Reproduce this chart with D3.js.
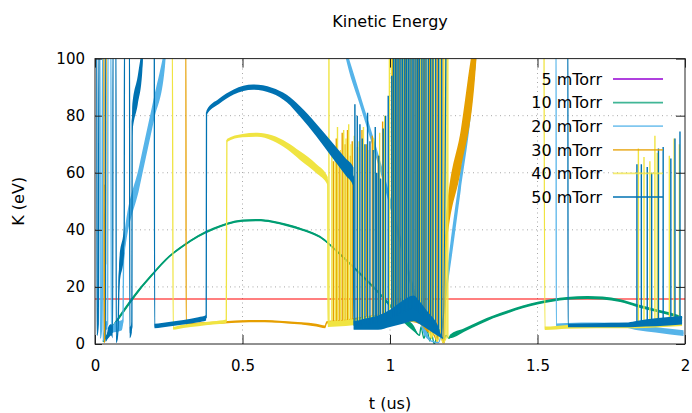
<!DOCTYPE html>
<html><head><meta charset="utf-8">
<script src="https://cdn.jsdelivr.net/npm/d3@7"></script>
<style>
body{margin:0;background:#fff;}
svg{display:block;font-family:"DejaVu Sans",sans-serif;}
</style></head><body>
<svg id="c" width="692" height="413"></svg>
<script>
// ---------- data ----------
const title = "Kinetic Energy";
const xLabel = "t (us)";
const yLabel = "K (eV)";
const tTicks = [0, 0.5, 1, 1.5, 2];
const kTicks = [0, 20, 40, 60, 80, 100];
const seriesNames = ["5 mTorr", "10 mTorr", "20 mTorr", "30 mTorr", "40 mTorr", "50 mTorr"];
const seriesColors = ["#9400d3", "#009e73", "#56b4e9", "#e69f00", "#f0e442", "#0072b2"];
const thresholdLine = [[0, 15.76], [2, 15.76]];   // horizontal reference (eV)

// points: [t (us), K (eV), noise half-amplitude (eV)]
const k5 = [];
const k10 = [
  [[0.027,0.8,0.4],[0.06,6,0.6],[0.1,12,0.7],[0.15,19,0.6],[0.2,25,0.5],[0.25,30.5,0.4],[0.3,34.5,0.4],[0.35,37.8,0.4],[0.4,40.3,0.4],[0.45,42.2,0.4],[0.5,43.2,0.4],[0.55,43.4,0.4],[0.6,42.9,0.4],[0.65,41.7,0.4],[0.7,40.2,0.4],[0.763,37.5,0.4],[0.83,31.5,0.4],[0.9,24.5,0.5],[0.966,17.5,0.5],[1.0,13.5,0.6],[1.04,9,0.8],[1.08,5.5,1],[1.1,3],[1.105,6],[1.115,2],[1.125,5],[1.135,1],[1.14,4],[1.15,0],[1.16,3],[1.17,5],[1.18,1],[1.19,3],[1.2,2],
   [1.203,2.6,0.6],[1.25,4.8,0.6],[1.305,7.5,0.6],[1.35,9.5,0.5],[1.4,11.3,0.5],[1.45,13,0.5],[1.5,14.3,0.5],[1.55,15.3,0.5],[1.6,16,0.5],[1.67,16.3,0.5],[1.72,16.1,0.5],[1.78,15.2,0.5],[1.836,13.5,0.5],[1.9,11.8,0.5],[1.95,10.5,0.5],[1.99,9.2,0.5]]
];
const k20 = [
  [[0,110],[0.017,110],[0.018,2],[0.022,5],[0.026,110],[0.027,1],[0.035,6,1.5],[0.043,7,1.5],[0.044,110],[0.054,110],[0.055,5,1],[0.07,6,1.8],[0.09,6.5,1.8],[0.095,8,1],[0.097,32,4],[0.15,58.5,4],[0.2,82.5,4],[0.236,100,4],[0.245,110]],
  [[0.83,110],[0.855,100,2],[0.9,85,2],[0.977,58.6,2],[1.03,38,2],[1.078,19,2],[1.12,4,1.5],[1.14,1],[1.164,0.5],[1.203,30,4],[1.24,58,4],[1.274,84,4],[1.3,110]],
  [[1.56,110],[1.563,110],[1.5635,6.6,0.6],[1.6,6.7,0.7],[1.7,6.8,0.7],[1.8,6.5,0.8],[1.84,5.8,1],[1.9,5,1],[1.95,4.3,1],[1.995,3.8,1]]
];
const k30 = [
  [[0,110],[0.03,110],[0.031,0.5],[0.034,2],[0.035,56],[0.036,28],[0.038,110]],
  [[0.306,110],[0.308,110],[0.309,6.8,0.4],[0.35,7.1,0.4],[0.4,7.4,0.4],[0.45,7.7,0.4],[0.5,7.9,0.4],[0.55,8,0.4],[0.6,7.9,0.4],[0.65,7.6,0.4],[0.7,7.2,0.4],[0.75,6.6,0.5],[0.78,6,0.5],[0.785,7.6,0.4],[0.85,8,0.6],[0.9,8.5,1],[0.95,9,1.2],[1.0,9.5,1.5],[1.05,10,2],[1.1,9,2],[1.13,6,2],[1.15,3],[1.16,1],[1.17,4],[1.18,0.5],[1.185,0.5],[1.19,38,6],[1.24,68,7],[1.288,100,7],[1.3,110]]
];
const k40 = [
  [[0,110],[0.262,110],[0.265,5.5,0.5],[0.3,6.2,0.6],[0.35,6.8,0.6],[0.4,7.4,0.6],[0.445,8,0.6],[0.447,71.3,0.5],[0.5,73,0.6],[0.55,73.3,0.7],[0.6,72.2,0.9],[0.65,69.5,1.2],[0.695,66,1.5],[0.75,61.5,1.6],[0.789,57,1.5],[0.7895,7,1],[0.85,7.3,1],[0.9,8,1.2],[0.95,8.5,1.5],[1.0,9,1.5],[1.05,9.5,1.5],[1.1,9,1.5],[1.13,6],[1.14,2],[1.15,5],[1.16,1],[1.17,4],[1.18,0.5],[1.19,2]],
  [[1.522,110],[1.525,5.5,0.6],[1.6,6,0.7],[1.7,6.2,0.7],[1.8,6.3,0.8],[1.83,6.5,1],[1.9,7,1.2],[1.99,7.5,1.2]]
];
const k50 = [
  [[0,110],[0.006,110],[0.007,3],[0.011,7],[0.0135,110],[0.035,110],[0.036,1],[0.045,4,2],[0.055,5,2],[0.06,4,2],[0.061,110],[0.071,110],[0.072,0.5],[0.078,5,1.5],[0.082,24,5],[0.099,37,5],[0.1,110],[0.117,110],[0.118,4,2],[0.125,6,2],[0.126,78,5],[0.145,89,5],[0.16,100,5],[0.165,110]],
  [[0.201,110],[0.202,6.3,0.8],[0.25,6.9,0.8],[0.3,7.6,0.8],[0.35,8.5,0.9],[0.377,9.2,1],[0.378,81,0.8],[0.42,85,0.9],[0.47,88.3,0.9],[0.536,90,0.9],[0.6,88.8,1],[0.65,86,1.3],[0.695,81.5,1.8],[0.75,75,2.2],[0.8,68.5,2.6],[0.85,62,3],[0.876,58.5,3.3],[0.877,6.5,1.5],[0.92,7,2],[0.96,7.5,2.5],[1.0,9,3],[1.04,11,4],[1.08,12.5,4.5],[1.1,11,4],[1.13,8,3],[1.16,5,2],[1.18,2],[1.19,110]],
  [[1.6,110],[1.603,110],[1.6035,6.5,0.6],[1.7,6.6,0.7],[1.8,6.7,0.8],[1.83,7,1],[1.9,7.6,1.4],[1.99,8.3,1.5]]
];
// spikes: [t, from K, to K]
const k5Spikes = [], k10Spikes = [], k20Spikes = [];
const k30Spikes = [[0.808,7.8,64],[0.818,7.8,72],[0.828,7.8,67],[0.838,7.9,74],[0.848,8,70],[0.856,8,75],[0.866,8,66],[0.872,8.1,71],[0.89,8.3,69],[0.905,8.5,75],[0.92,8.6,70],[0.94,8.8,73],[0.96,9,66],[0.975,9.2,78],
  [1.009,9.5,110],[1.021,9.6,110],[1.033,9.8,110],[1.052,10,110],[1.064,10,110],[1.072,9.8,110],[1.085,9.5,110],[1.097,9.2,110],[1.11,8,110],[1.118,7,110],[1.134,5,110],[1.144,4,110],[1.16,1,110],[1.172,3,110],[1.18,0.5,110]];
const k40Spikes = [[0.793,7,110],[0.803,7,70],[0.814,7,65],[0.822,7.1,76],[0.832,7.1,68],[0.843,7.2,75],[0.851,7.2,72],[0.86,7.3,77],[0.868,7.4,70],[0.879,7.5,73],[0.895,7.8,71],[0.91,8,76],[0.925,8.1,68],[0.945,8.3,72],[0.965,8.6,74],[0.982,8.9,80],
  [0.998,9,110],[1.005,9,110],[1.015,9.1,110],[1.027,9.2,110],[1.04,9.4,110],[1.046,9.5,110],[1.058,9.5,110],[1.07,9.4,110],[1.079,9.3,110],[1.09,9.2,110],[1.104,9,110],[1.112,8,110],[1.125,7,110],[1.14,2,110],[1.152,4,110],[1.17,4,110],[1.183,1,110],[1.19,2,110],[1.196,2,110],
  [1.842,6.5,68.5],[1.861,6.5,65.5],[1.881,7,64],[1.898,7,73],[1.906,7,67],[1.947,7,66],[1.963,7.5,72],[1.981,7.5,70]];
const k50Spikes = [[0.881,6.5,84],[0.889,6.6,80],[0.898,6.7,77],[0.906,6.8,72],[0.915,7,70],[0.924,7,81],[0.932,7.1,71],[0.943,7.2,68],[0.95,7.3,76],[0.955,7.4,60],[0.962,7.5,66],[0.968,7.6,58],[0.977,7.8,75.5],[0.985,8.2,80],[0.994,8.6,87],[1.006,9.2,94],
  [1.012,9.5,110],[1.018,9.8,110],[1.024,10,110],[1.03,10.5,110],[1.037,11,110],[1.043,11.2,110],[1.05,11.6,110],[1.056,12,110],[1.062,12.2,110],[1.068,12.4,110],[1.075,12.5,110],[1.081,12.5,110],[1.088,12,110],[1.094,11.5,110],[1.1,11,110],[1.108,10,110],[1.115,9,110],[1.122,8.5,110],[1.13,8,110],[1.138,7,110],[1.146,6,110],[1.155,5,110],[1.165,4,110],[1.175,2,110],
  [1.837,7,63],[1.852,7,63],[1.872,7.5,62],[1.887,7.5,60],[1.91,7.5,68.5],[1.926,8,69],[1.952,8,65],[1.966,8,72],[1.983,8,74.5]];

const seriesSegments = [k5, k10, k20, k30, k40, k50];
const seriesSpikes = [k5Spikes, k10Spikes, k20Spikes, k30Spikes, k40Spikes, k50Spikes];

// ---------- drawing ----------
const svg = d3.select("#c");
const L = 95, R = 685, T = 58.6, B = 344;
const x = d3.scaleLinear().domain([0, 2]).range([L, R]);
const y = d3.scaleLinear().domain([0, 100]).range([B, T]);

svg.append("defs").append("clipPath").attr("id", "clip")
  .append("rect").attr("x", L).attr("y", T).attr("width", R - L).attr("height", B - T);

// grid
const grid = svg.append("g").attr("stroke", "#a8a8a8").attr("stroke-width", 1).attr("stroke-dasharray", "1,3.5");
tTicks.filter(t => t > 0 && t < 2).forEach(t => grid.append("line")
  .attr("x1", x(t)).attr("x2", x(t)).attr("y1", y(0)).attr("y2", y(100)));
kTicks.filter(k => k > 0 && k < 100).forEach(k => grid.append("line")
  .attr("x1", x(0)).attr("x2", x(2)).attr("y1", y(k)).attr("y2", y(k)));

// data
const plot = svg.append("g").attr("clip-path", "url(#clip)");
const line = d3.line().x(d => x(d[0])).y(d => y(d[1])).curve(d3.curveMonotoneX);
const spikeLine = d3.line().x(d => x(d[0])).y(d => y(d[1]));
const area = d3.area().x(d => x(d[0])).y0(d => y(d[1] - (d[2] || 0))).y1(d => y(d[1] + (d[2] || 0))).curve(d3.curveMonotoneX);

plot.append("path").attr("d", spikeLine(thresholdLine)).attr("fill", "none").attr("stroke", "#ff0000").attr("stroke-width", 1.2);

seriesSegments.forEach((segs, i) => {
  const g = plot.append("g");
  segs.forEach(seg => {
    g.append("path").attr("d", area(seg)).attr("fill", seriesColors[i]).attr("stroke", "none");
    g.append("path").attr("d", line(seg)).attr("fill", "none").attr("stroke", seriesColors[i])
      .attr("stroke-width", 1.3).attr("stroke-linejoin", "round");
  });
  seriesSpikes[i].forEach(s => {
    g.append("path").attr("d", spikeLine([[s[0], s[1]], [s[0], s[2]]])).attr("fill", "none")
      .attr("stroke", seriesColors[i]).attr("stroke-width", 1.4);
  });
});

// axes
function styleAxis(sel, labels) {
  sel.select(".domain").remove();
  sel.selectAll(".tick line").attr("stroke", "#222");
  sel.selectAll(".tick text").attr("fill", "#000").style("font-size", "15px")
    .style("font-family", "'DejaVu Sans', sans-serif");
  if (!labels) sel.selectAll(".tick text").remove();
}
const fmt = d3.format("~g");
svg.append("g").attr("transform", `translate(0,${B})`)
  .call(d3.axisBottom(x).tickValues(tTicks).tickFormat(fmt).tickSize(-9).tickPadding(16))
  .call(s => styleAxis(s, true));
svg.append("g").attr("transform", `translate(0,${T})`)
  .call(d3.axisTop(x).tickValues(tTicks).tickSize(-9))
  .call(s => styleAxis(s, false));
svg.append("g").attr("transform", `translate(${L},0)`)
  .call(d3.axisLeft(y).tickValues(kTicks).tickFormat(fmt).tickSize(-7).tickPadding(10))
  .call(s => styleAxis(s, true));
svg.append("g").attr("transform", `translate(${R},0)`)
  .call(d3.axisRight(y).tickValues(kTicks).tickSize(-9))
  .call(s => styleAxis(s, false));

svg.append("rect").attr("x", L).attr("y", T).attr("width", R - L).attr("height", B - T)
  .attr("fill", "none").attr("stroke", "#222").attr("stroke-width", 1);

// titles
svg.append("text").attr("x", (L + R) / 2).attr("y", 27).attr("text-anchor", "middle")
  .style("font-size", "16px").text(title);
svg.append("text").attr("x", (L + R) / 2).attr("y", 409).attr("text-anchor", "middle")
  .style("font-size", "16px").text(xLabel);
svg.append("text").attr("transform", `translate(24,${(T + B) / 2}) rotate(-90)`).attr("text-anchor", "middle")
  .style("font-size", "16px").text(yLabel);

// legend
const leg = svg.append("g");
seriesNames.forEach((name, i) => {
  const cy = 79 + i * 23.6;
  leg.append("text").attr("x", 602).attr("y", cy).attr("dy", "0.36em").attr("text-anchor", "end")
    .style("font-size", "16px").text(name);
  leg.append("line").attr("x1", 613).attr("x2", 663).attr("y1", cy).attr("y2", cy)
    .attr("stroke", seriesColors[i]).attr("stroke-width", 1.8).attr("stroke-opacity", 0.75);
});
</script></body></html>
